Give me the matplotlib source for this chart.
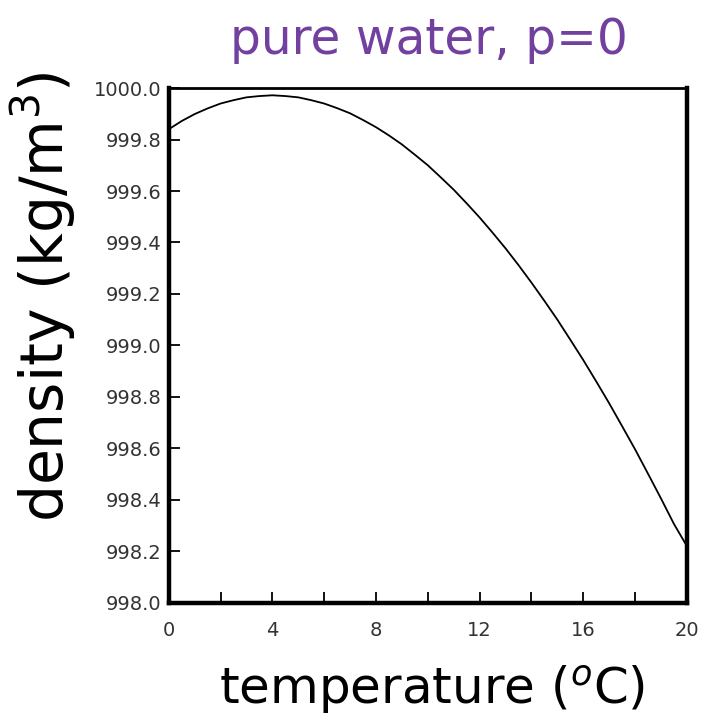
import matplotlib
matplotlib.use('Agg')
import matplotlib.pyplot as plt
from matplotlib.ticker import MultipleLocator, FormatStrFormatter

# density of pure water at p=0, read every half degree
temperature = [0, 0.5, 1, 1.5, 2, 2.5, 3, 3.5, 4, 4.5, 5, 5.5, 6, 6.5, 7,
               7.5, 8, 8.5, 9, 9.5, 10, 10.5, 11, 11.5, 12, 12.5, 13, 13.5,
               14, 14.5, 15, 15.5, 16, 16.5, 17, 17.5, 18, 18.5, 19, 19.5, 20]
density = [999.84, 999.872, 999.899, 999.921, 999.94, 999.953, 999.964,
           999.969, 999.972, 999.969, 999.964, 999.953, 999.94, 999.922,
           999.902, 999.876, 999.848, 999.816, 999.781, 999.741, 999.70,
           999.653, 999.605, 999.552, 999.497, 999.438, 999.377, 999.312,
           999.244, 999.173, 999.10, 999.022, 998.943, 998.860, 998.775,
           998.686, 998.596, 998.501, 998.405, 998.306, 998.22]
xticklabels = [0, 4, 8, 12, 16, 20]

fig = plt.figure(figsize=(7.06, 7.28), dpi=100)
ax = fig.add_axes([0.239, 0.172, 0.734, 0.707])

ax.plot(temperature, density, color='black', lw=1.3)
ax.set_xlim(0, 20)
ax.set_ylim(998.0, 1000.0)

ax.set_xticks(xticklabels)
ax.xaxis.set_minor_locator(MultipleLocator(2))
ax.yaxis.set_major_locator(MultipleLocator(0.2))
ax.yaxis.set_major_formatter(FormatStrFormatter('%.1f'))
ax.tick_params(axis='x', direction='in', length=8, width=1.3, labelsize=14,
               top=False, pad=13)
ax.tick_params(axis='y', direction='in', length=8, width=1.3, labelsize=14,
               right=False, pad=5)
ax.tick_params(which='minor', direction='in', length=8, width=1.3,
               top=False, right=False)
for lab in ax.get_xticklabels() + ax.get_yticklabels():
    lab.set_family('DejaVu Sans')
    lab.set_color('#333333')

for side in ['left', 'bottom', 'right']:
    ax.spines[side].set_linewidth(3.2)
ax.spines['top'].set_linewidth(2)

fig.text(0.608, 0.945, 'pure water, p=0', color='#7241a0', fontsize=35,
         ha='center', va='center')
fig.text(0.062, 0.592, 'density (kg/m$^3$)', fontsize=42, rotation=90,
         ha='center', va='center')
fig.text(0.612, 0.052, 'temperature ($^o$C)', fontsize=36,
         ha='center', va='center')

fig.savefig('out.png', dpi=100)
